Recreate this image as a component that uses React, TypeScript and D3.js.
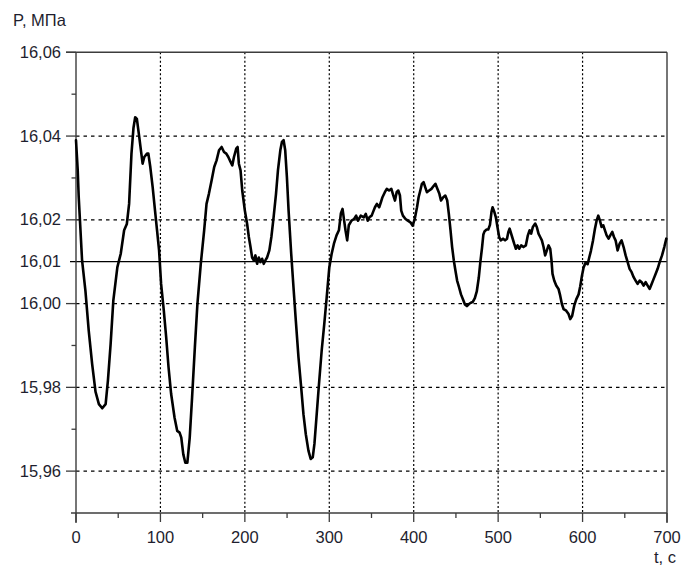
import React from 'react';
import * as d3 from 'd3';

// Pressure record P(t), seconds / MPa
const TIME = [
  0, 2, 3.2, 7.2, 11.2, 15.1, 19.1, 23.1, 27.1, 31.1, 35.1, 37.8, 41, 44.2, 49, 53, 57, 60.2, 62.9, 65.7,
  68.1, 70.1, 72.1, 74.9, 76.9, 78.9, 80.9, 84.1, 85.7, 88, 90.8, 93.6, 96, 98.4, 100.8, 104, 106.8, 109.6,
  112.7, 116.7, 119.9, 122.7, 124.7, 127.1, 129.5, 131.9, 134.7, 137.5, 140.8, 143.8, 147.8, 151.8, 154.6,
  157.4, 160.6, 163.7, 166.5, 169.4, 172.5, 175.3, 178, 180.4, 183.1, 185.1, 187.1, 189.8, 191.4, 192.9,
  194.9, 196.9, 200, 202.7, 204.7, 206.7, 208.6, 210.6, 212.5, 214.5, 216.5, 218.4, 220.4, 222.4, 224.3,
  226.3, 229, 231.4, 234.1, 236.9, 239.2, 242, 243.9, 245.9, 247.8, 249.8, 251.8, 254.9, 257.6, 260.4,
  263.5, 266.7, 269.4, 272.2, 275.3, 278, 280.4, 282.4, 285.1, 287.8, 291, 294.1, 296.9, 300, 302.7, 305.5,
  308.6, 311.4, 313.7, 315.7, 317.6, 319.2, 321.2, 323.1, 326.3, 329.4, 331.8, 334.1, 337.3, 340.9, 343.2,
  345.5, 347.5, 350.2, 352.5, 354.1, 356.4, 359.1, 361.1, 363, 365.8, 368.1, 370.8, 373.5, 375.9, 377.8,
  379.8, 381.7, 383.7, 385.2, 387.2, 390.3, 393, 396.1, 398.8, 401.2, 403.9, 405.8, 407.8, 409.7, 411.7,
  413.6, 415.6, 418.3, 421, 423.3, 425.7, 428, 430.4, 432.3, 435, 437.4, 439.7, 441.6, 443.6, 445.5, 447.5,
  449.4, 451.4, 453.7, 456, 458.4, 460.7, 463, 465.4, 467.7, 470, 472.4, 474.7, 477, 479, 480.9, 482.5,
  484, 486.4, 488.3, 490.3, 492.2, 493.4, 495.3, 497.3, 499.2, 501.2, 503.1, 505.8, 508.2, 510.5, 512.1,
  513.6, 516.6, 519, 521, 523, 524.9, 527.3, 530, 532.8, 535.2, 537.2, 539.1, 541.1, 543.9, 545.8, 547.8,
  549.8, 551.8, 553.8, 555.7, 557.7, 559.7, 561.7, 563.2, 564.4, 566.4, 568.8, 571.5, 573.5, 575.5, 577.5,
  580.6, 583.4, 585.4, 587.7, 590.1, 592.5, 595.3, 597.2, 599.2, 601.2, 603.6, 606, 607.9, 609.9, 612.3,
  614.6, 616.6, 618.6, 620.6, 622.5, 624.5, 626.5, 628.5, 630.8, 632.8, 635.2, 637.2, 639.1, 641.5, 643.9,
  646.2, 648.6, 651, 653.4, 655.7, 658.1, 660.5, 662.8, 665.2, 667.6, 670, 672.3, 674.7, 677.1, 679.4,
  681.8, 684.2, 686.6, 688.9, 691.3, 694.1, 696.8, 699.2,
];

const PRESSURE = [
  16.039, 16.032, 16.0255, 16.0103, 16.003, 15.9935, 15.9856, 15.979, 15.976, 15.975, 15.976, 15.9816,
  15.9903, 16.0007, 16.0087, 16.0119, 16.0175, 16.019, 16.0238, 16.0358, 16.042, 16.0445, 16.0441, 16.0398,
  16.0366, 16.0334, 16.035, 16.0358, 16.0358, 16.0326, 16.0278, 16.0222, 16.0175, 16.0127, 16.0047, 15.9983,
  15.992, 15.9848, 15.9784, 15.9728, 15.9696, 15.9692, 15.968, 15.964, 15.962, 15.962, 15.968, 15.9776,
  15.9896, 15.9999, 16.0095, 16.0175, 16.0238, 16.0262, 16.0294, 16.0326, 16.0342, 16.0366, 16.0374,
  16.0362, 16.0358, 16.035, 16.0338, 16.033, 16.035, 16.037, 16.0374, 16.0334, 16.0318, 16.027, 16.0222,
  16.019, 16.0159, 16.0135, 16.011, 16.0103, 16.0115, 16.0095, 16.011, 16.0099, 16.0107, 16.0095, 16.0103,
  16.011, 16.0127, 16.0159, 16.0207, 16.0262, 16.0318, 16.0366, 16.0386, 16.039, 16.0366, 16.0302, 16.0222,
  16.0119, 16.0039, 15.9958, 15.9872, 15.98, 15.9736, 15.9688, 15.9649, 15.9629, 15.9633, 15.9665, 15.9736,
  15.9808, 15.9888, 15.9952, 16.0014, 16.0086, 16.0118, 16.0143, 16.0163, 16.0175, 16.0215, 16.0226,
  16.0198, 16.0175, 16.0151, 16.0187, 16.0198, 16.0202, 16.021, 16.0198, 16.021, 16.0206, 16.0214, 16.0198,
  16.0206, 16.021, 16.0222, 16.023, 16.0238, 16.023, 16.0242, 16.0254, 16.0266, 16.0274, 16.027, 16.0274,
  16.0258, 16.0246, 16.0266, 16.027, 16.0258, 16.0222, 16.021, 16.0202, 16.0198, 16.0194, 16.0186, 16.0202,
  16.023, 16.0254, 16.027, 16.0286, 16.029, 16.0278, 16.0266, 16.027, 16.0274, 16.028, 16.0286, 16.0274,
  16.0262, 16.0246, 16.0254, 16.0258, 16.0246, 16.0214, 16.0175, 16.0135, 16.0103, 16.0079, 16.0055,
  16.0039, 16.0022, 16.001, 15.9998, 15.9994, 15.9999, 16.0002, 16.0004, 16.0013, 16.0029, 16.0061, 16.0101,
  16.0133, 16.0165, 16.0173, 16.0177, 16.0177, 16.0188, 16.022, 16.023, 16.022, 16.0206, 16.0183, 16.0159,
  16.0151, 16.0155, 16.0151, 16.0155, 16.0171, 16.0179, 16.0159, 16.0143, 16.0131, 16.0139, 16.0131,
  16.0139, 16.0135, 16.0139, 16.0163, 16.0175, 16.0167, 16.0183, 16.0191, 16.0183, 16.0167, 16.0159,
  16.0151, 16.0135, 16.0115, 16.0127, 16.0139, 16.0131, 16.0103, 16.0071, 16.0055, 16.0043, 16.0035,
  16.0019, 15.9999, 15.9987, 15.9983, 15.9975, 15.9963, 15.9971, 15.9995, 16.001, 16.0022, 16.0041, 16.0066,
  16.0086, 16.0098, 16.0094, 16.011, 16.0126, 16.015, 16.0178, 16.0198, 16.021, 16.0198, 16.0183, 16.0187,
  16.0175, 16.0163, 16.0155, 16.0163, 16.0171, 16.0159, 16.0151, 16.0127, 16.0143, 16.0151, 16.0135,
  16.0115, 16.0099, 16.0083, 16.0075, 16.0063, 16.0055, 16.0047, 16.0055, 16.0051, 16.0043, 16.0051,
  16.0043, 16.0035, 16.0047, 16.0059, 16.0071, 16.0083, 16.0099, 16.0115, 16.0135, 16.0155,
];

const X_TICKS = [0, 100, 200, 300, 400, 500, 600, 700];
const X_MINOR_TICKS = [50, 150, 250, 350, 450, 550, 650];
const X_GRID = [100, 200, 300, 400, 500, 600];
const Y_LABELED = [16.06, 16.04, 16.02, 16.01, 16.0, 15.98, 15.96];
const Y_GRID = [16.04, 16.02, 16.0, 15.98, 15.96];
const Y_MINOR_TICKS = [16.05, 16.03, 15.99, 15.97];
const REFERENCE_LEVEL = 16.01;
const Y_TITLE = 'P, МПа';
const X_TITLE = 't, c';

const W = 682;
const H = 571;
const FONT = '"Liberation Sans", Arial, sans-serif';
const AXIS = '#3c3c3c';
const TEXT = '#1e1e2e';

export default function App() {
  const x = d3.scaleLinear().domain([0, 700]).range([76, 667]);
  const y = d3.scaleLinear().domain([15.95, 16.06]).range([513, 52.3]);
  const [x0, x1] = x.range();
  const [yB, yT] = y.range();

  const fmt = (v: number) => d3.format('.2f')(v).replace('.', ',');
  const points = TIME.map((t, i) => [t, PRESSURE[i]] as [number, number]);
  const path = d3
    .line<[number, number]>()
    .x((d) => x(d[0]))
    .y((d) => y(d[1]))(points) as string;

  return (
    <svg
      width={W}
      height={H}
      viewBox={`0 0 ${W} ${H}`}
      style={{ position: 'absolute', left: 0, top: 0, background: '#fff' }}
    >
      <rect x={0} y={0} width={W} height={H} fill="#fff" />

      {/* grid */}
      {X_GRID.map((t) => (
        <line key={`gx${t}`} x1={x(t)} x2={x(t)} y1={yT} y2={yB} stroke="#000" strokeWidth={1.2} strokeDasharray="2,2.2" />
      ))}
      {Y_GRID.map((v) => (
        <line key={`gy${v}`} x1={x0} x2={x1} y1={y(v)} y2={y(v)} stroke="#000" strokeWidth={1.2} strokeDasharray="3.5,4" />
      ))}

      {/* reference level */}
      <line x1={70} x2={x1} y1={y(REFERENCE_LEVEL)} y2={y(REFERENCE_LEVEL)} stroke="#000" strokeWidth={1.3} />

      {/* frame and axes */}
      <line x1={66} x2={x1} y1={yT} y2={yT} stroke={AXIS} strokeWidth={1.4} />
      <line x1={x0} x2={x0} y1={yT} y2={yB + 10} stroke={AXIS} strokeWidth={1.4} />
      <line x1={71} x2={x1} y1={yB} y2={yB} stroke={AXIS} strokeWidth={1.4} />
      <line x1={x1} x2={x1} y1={yT} y2={yB + 10} stroke={AXIS} strokeWidth={1.4} />

      {Y_LABELED.filter((v) => v !== REFERENCE_LEVEL).map((v) => (
        <line key={`ty${v}`} x1={66} x2={x0} y1={y(v)} y2={y(v)} stroke={AXIS} strokeWidth={1.3} />
      ))}
      {Y_MINOR_TICKS.map((v) => (
        <line key={`my${v}`} x1={71.5} x2={x0} y1={y(v)} y2={y(v)} stroke={AXIS} strokeWidth={1.3} />
      ))}
      {X_TICKS.map((t) => (
        <line key={`tx${t}`} x1={x(t)} x2={x(t)} y1={yB} y2={yB + 9} stroke={AXIS} strokeWidth={1.3} />
      ))}
      {X_MINOR_TICKS.map((t) => (
        <line key={`mx${t}`} x1={x(t)} x2={x(t)} y1={yB} y2={yB + 5} stroke={AXIS} strokeWidth={1.3} />
      ))}

      {/* data */}
      <path d={path} fill="none" stroke="#000" strokeWidth={2.6} strokeLinejoin="round" strokeLinecap="round" />

      {/* labels */}
      <g fontFamily={FONT} fontSize={16.5} fill={TEXT}>
        {Y_LABELED.map((v) => (
          <text key={`ly${v}`} x={61} y={y(v) + 5.6} textAnchor="end">
            {fmt(v)}
          </text>
        ))}
        {X_TICKS.map((t) => (
          <text key={`lx${t}`} x={x(t)} y={543} textAnchor="middle">
            {t}
          </text>
        ))}
        <text x={13} y={26}>{Y_TITLE}</text>
        <text x={676} y={563} textAnchor="end">{X_TITLE}</text>
      </g>
    </svg>
  );
}
